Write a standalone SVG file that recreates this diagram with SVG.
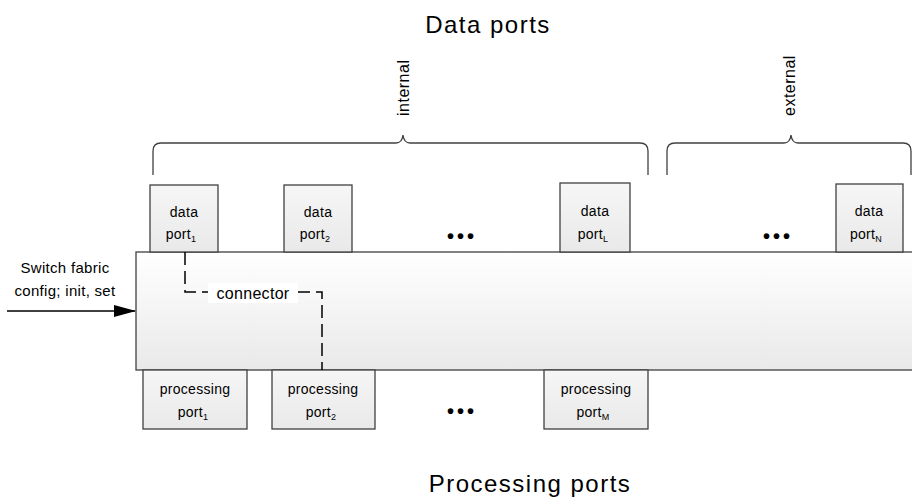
<svg xmlns="http://www.w3.org/2000/svg" width="912" height="497" viewBox="0 0 912 497">
<defs>
<linearGradient id="gBig" x1="0" y1="0" x2="0" y2="1"><stop offset="0" stop-color="#ffffff"/><stop offset="1" stop-color="#e9e9e9"/></linearGradient>
<linearGradient id="gBox" x1="0" y1="0" x2="0" y2="1"><stop offset="0" stop-color="#f6f6f6"/><stop offset="1" stop-color="#e9e9e9"/></linearGradient>
<marker id="arr" markerWidth="22" markerHeight="12" refX="21" refY="6" orient="auto" markerUnits="userSpaceOnUse"><path d="M0,0 L22,6 L0,12 Z" fill="#000"/></marker>
</defs>
<style>
text{font-family:"Liberation Sans",Arial,sans-serif;fill:#000}
.box{fill:url(#gBox);stroke:#404040;stroke-width:1.3}
.lbl{font-size:14px;text-anchor:middle;letter-spacing:0.3px}
.sub{font-size:9px}
.title{font-size:24px;text-anchor:middle;letter-spacing:1.5px}
.brace{fill:none;stroke:#404040;stroke-width:1.3}
.dash{fill:none;stroke:#000;stroke-width:1.5;stroke-dasharray:13,6}
.dots{font-size:20px;font-weight:bold;text-anchor:middle;letter-spacing:3px}
</style>
<rect width="912" height="497" fill="#fff"/>
<text class="title" x="488" y="33">Data ports</text>
<text class="title" x="530" y="492">Processing ports</text>
<g id="braces">
<path class="brace" d="M153,175 V151 Q153,143 161,143 H396 Q402,143 403,135 Q404,143 410,143 H640 Q648,143 648,151 V175"/>
<path class="brace" d="M667,175 V151 Q667,143 675,143 H784 Q790,143 791,135 Q792,143 798,143 H903 Q911,143 911,151 V175"/>
<text style="font-size:16px;letter-spacing:0.5px" transform="translate(409,116) rotate(-90)">internal</text>
<text style="font-size:16px;letter-spacing:0.5px" transform="translate(795,116) rotate(-90)">external</text>
</g>
<g id="fabric">
<rect x="136" y="252" width="780" height="118" fill="url(#gBig)" stroke="#404040" stroke-width="1.3"/>
</g>
<g id="data1"><rect class="box" x="150" y="185" width="68" height="67"/><text class="lbl" x="184" y="217">data</text><text class="lbl" x="181" y="239">port<tspan class="sub" dy="3">1</tspan></text></g>
<g id="data2"><rect class="box" x="284" y="185" width="68" height="67"/><text class="lbl" x="318" y="217">data</text><text class="lbl" x="315" y="239">port<tspan class="sub" dy="3">2</tspan></text></g>
<g id="dataL"><rect class="box" x="560" y="183" width="70" height="69"/><text class="lbl" x="595" y="216">data</text><text class="lbl" x="593" y="239">port<tspan class="sub" dy="3">L</tspan></text></g>
<g id="dataN"><rect class="box" x="836" y="184" width="67" height="68"/><text class="lbl" x="869" y="216">data</text><text class="lbl" x="866" y="239">port<tspan class="sub" dy="3">N</tspan></text></g>
<text class="dots" x="462" y="243">•••</text>
<text class="dots" x="778" y="243">•••</text>
<g id="proc1"><rect class="box" x="143" y="370" width="104" height="59"/><text class="lbl" x="195" y="394">processing</text><text class="lbl" x="193" y="417">port<tspan class="sub" dy="3">1</tspan></text></g>
<g id="proc2"><rect class="box" x="272" y="370" width="103" height="59"/><text class="lbl" x="323" y="394">processing</text><text class="lbl" x="321" y="417">port<tspan class="sub" dy="3">2</tspan></text></g>
<g id="procM"><rect class="box" x="544" y="370" width="104" height="59"/><text class="lbl" x="596" y="394">processing</text><text class="lbl" x="593" y="417">port<tspan class="sub" dy="3">M</tspan></text></g>
<text class="dots" x="462" y="418">•••</text>
<g id="input">
<text class="lbl" style="font-size:15px" x="65" y="273">Switch fabric</text>
<text class="lbl" style="font-size:15px" x="65" y="296">config; init, set</text>
</g>
<g id="connectors">
<line x1="7" y1="311" x2="135" y2="311" stroke="#000" stroke-width="1.5" marker-end="url(#arr)"/>
<path class="dash" d="M185,252 V292 H322 V370"/>
<rect x="208" y="283" width="90" height="20" fill="#fff"/>
<text class="lbl" style="font-size:16px" x="253" y="299">connector</text>
</g>
</svg>
